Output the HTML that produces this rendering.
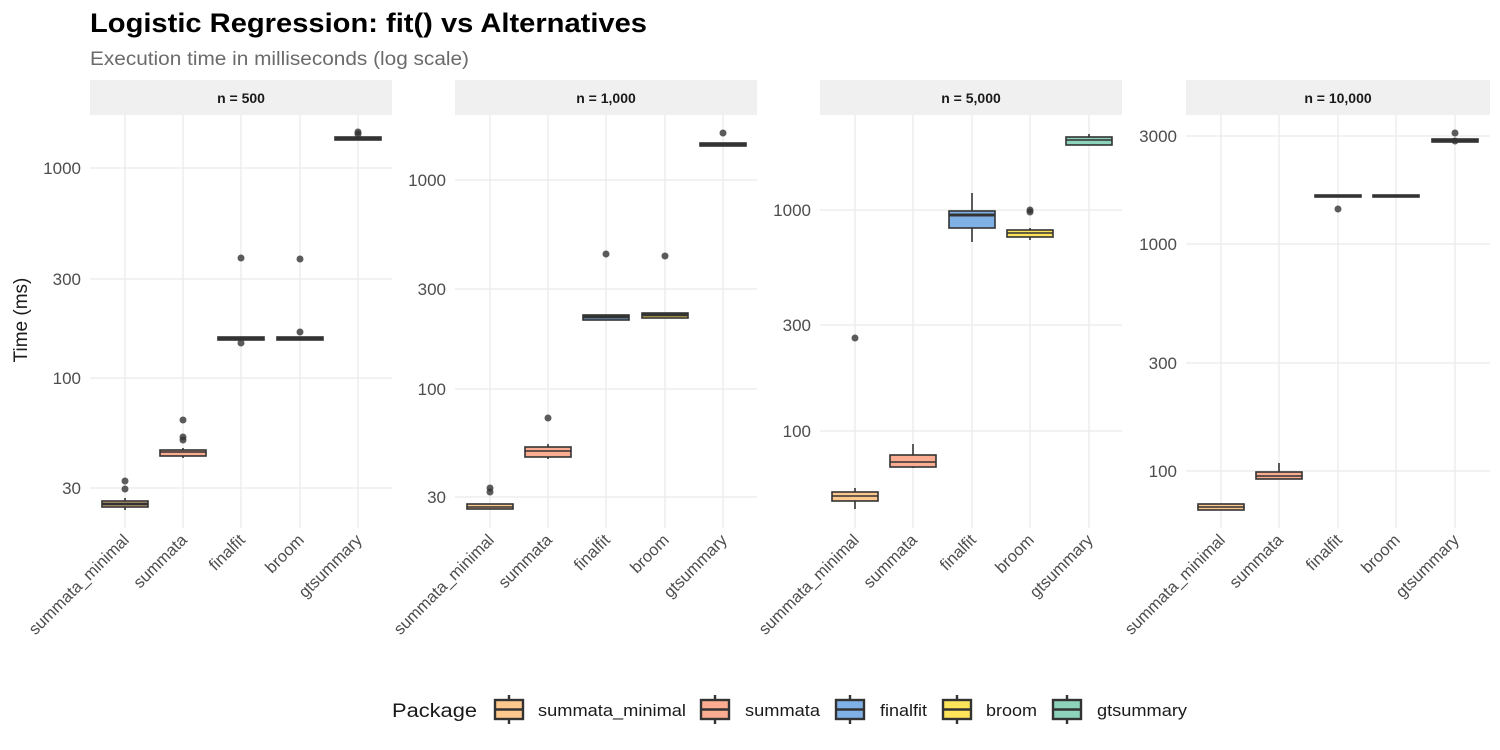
<!DOCTYPE html>
<html><head><meta charset="utf-8"><style>
body{margin:0;background:#fff;}
svg{display:block;font-family:"Liberation Sans",sans-serif;}
.g{stroke:#ebebeb;stroke-width:1.3;}
.t{font-size:17px;fill:#4d4d4d;}
.b{stroke:#333;stroke-width:1.6;}
.k{stroke:#333;stroke-width:2.4;}
.m{stroke:#333;stroke-width:3;}
.o{fill:#333;fill-opacity:.8;}
</style></head><body>
<svg width="1500" height="750" viewBox="0 0 1500 750">
<text x="90" y="32" font-size="27" font-weight="bold" fill="#000" textLength="557" lengthAdjust="spacingAndGlyphs">Logistic Regression: fit() vs Alternatives</text>
<text x="90" y="65" font-size="19" fill="#6b6b6b" textLength="379" lengthAdjust="spacingAndGlyphs">Execution time in milliseconds (log scale)</text>
<text transform="translate(27,320) rotate(-90)" font-size="19" fill="#1a1a1a" text-anchor="middle">Time (ms)</text>

<rect x="90" y="80" width="302" height="35" fill="#f0f0f0"/>
<rect x="455" y="80" width="302" height="35" fill="#f0f0f0"/>
<rect x="820" y="80" width="302" height="35" fill="#f0f0f0"/>
<rect x="1186" y="80" width="304" height="35" fill="#f0f0f0"/>
<g font-size="14" font-weight="bold" fill="#1a1a1a" text-anchor="middle">
<text x="241" y="103">n = 500</text><text x="606" y="103">n = 1,000</text>
<text x="971" y="103">n = 5,000</text><text x="1338" y="103">n = 10,000</text></g>

<g class="g">
<line x1="90" x2="392" y1="168" y2="168"/><line x1="90" x2="392" y1="279" y2="279"/><line x1="90" x2="392" y1="378" y2="378"/><line x1="90" x2="392" y1="488" y2="488"/>
<line x1="125" x2="125" y1="115" y2="528"/><line x1="183" x2="183" y1="115" y2="528"/><line x1="241" x2="241" y1="115" y2="528"/><line x1="300" x2="300" y1="115" y2="528"/><line x1="358" x2="358" y1="115" y2="528"/>
<line x1="455" x2="757" y1="180" y2="180"/><line x1="455" x2="757" y1="289" y2="289"/><line x1="455" x2="757" y1="389" y2="389"/><line x1="455" x2="757" y1="497" y2="497"/>
<line x1="490" x2="490" y1="115" y2="528"/><line x1="548" x2="548" y1="115" y2="528"/><line x1="606" x2="606" y1="115" y2="528"/><line x1="665" x2="665" y1="115" y2="528"/><line x1="723" x2="723" y1="115" y2="528"/>
<line x1="820" x2="1122" y1="210" y2="210"/><line x1="820" x2="1122" y1="325" y2="325"/><line x1="820" x2="1122" y1="431" y2="431"/>
<line x1="855" x2="855" y1="115" y2="528"/><line x1="913" x2="913" y1="115" y2="528"/><line x1="972" x2="972" y1="115" y2="528"/><line x1="1030" x2="1030" y1="115" y2="528"/><line x1="1089" x2="1089" y1="115" y2="528"/>
<line x1="1186" x2="1490" y1="136" y2="136"/><line x1="1186" x2="1490" y1="244" y2="244"/><line x1="1186" x2="1490" y1="363" y2="363"/><line x1="1186" x2="1490" y1="471" y2="471"/>
<line x1="1221" x2="1221" y1="115" y2="528"/><line x1="1279" x2="1279" y1="115" y2="528"/><line x1="1338" x2="1338" y1="115" y2="528"/><line x1="1396" x2="1396" y1="115" y2="528"/><line x1="1455" x2="1455" y1="115" y2="528"/>
</g>

<g class="t" text-anchor="end">
<text x="81" y="174">1000</text><text x="81" y="285">300</text><text x="81" y="384">100</text><text x="81" y="494">30</text>
<text x="446" y="186">1000</text><text x="446" y="295">300</text><text x="446" y="395">100</text><text x="446" y="503">30</text>
<text x="811" y="216">1000</text><text x="811" y="331">300</text><text x="811" y="437">100</text>
<text x="1177" y="142">3000</text><text x="1177" y="250">1000</text><text x="1177" y="369">300</text><text x="1177" y="477">100</text>
</g>

<line class="b" x1="125" x2="125" y1="498" y2="510"/><rect class="b" x="102" y="501" width="46" height="6" fill="#FDC88E"/><line class="m" x1="102" x2="148" y1="504" y2="504"/>
<circle class="o" cx="125" cy="481" r="3.5"/><circle class="o" cx="125" cy="489" r="3.5"/>
<line class="b" x1="183" x2="183" y1="448" y2="458"/><rect class="b" x="160" y="450" width="46" height="6" fill="#FCAD91"/><line class="b" x1="160" x2="206" y1="452" y2="452"/>
<circle class="o" cx="183" cy="420" r="3.5"/><circle class="o" cx="183" cy="437" r="3.5"/><circle class="o" cx="183" cy="440" r="3.5"/>
<rect class="b" x="218" y="337" width="46" height="3" fill="#80B1E6"/><line class="m" x1="218" x2="264" y1="338.5" y2="338.5"/>
<circle class="o" cx="241" cy="258" r="3.5"/><circle class="o" cx="241" cy="343" r="3.5"/>
<rect class="b" x="277" y="337" width="46" height="3" fill="#FEE45A"/><line class="m" x1="277" x2="323" y1="338.5" y2="338.5"/>
<circle class="o" cx="300" cy="259" r="3.5"/><circle class="o" cx="300" cy="332" r="3.5"/>
<rect class="b" x="335" y="137" width="46" height="3" fill="#8DD3BB"/><line class="m" x1="335" x2="381" y1="138.5" y2="138.5"/>
<circle class="o" cx="358" cy="132" r="3.5"/><circle class="o" cx="358" cy="134" r="3.5"/>

<rect class="b" x="467" y="504" width="46" height="5" fill="#FDC88E"/><line class="b" x1="467" x2="513" y1="507" y2="507"/>
<circle class="o" cx="490" cy="488" r="3.5"/><circle class="o" cx="490" cy="492" r="3.5"/>
<line class="b" x1="548" x2="548" y1="444" y2="459"/><rect class="b" x="525" y="447" width="46" height="10" fill="#FCAD91"/><line class="b" x1="525" x2="571" y1="451" y2="451"/>
<circle class="o" cx="548" cy="418" r="3.5"/>
<rect class="b" x="583" y="315" width="46" height="5" fill="#80B1E6"/><line class="m" x1="583" x2="629" y1="317" y2="317"/>
<circle class="o" cx="606" cy="254" r="3.5"/>
<rect class="b" x="642" y="313" width="46" height="5" fill="#FEE45A"/><line class="m" x1="642" x2="688" y1="315" y2="315"/>
<circle class="o" cx="665" cy="256" r="3.5"/>
<rect class="b" x="700" y="143" width="46" height="3" fill="#8DD3BB"/><line class="m" x1="700" x2="746" y1="144.5" y2="144.5"/>
<circle class="o" cx="723" cy="133" r="3.5"/>

<line class="b" x1="855" x2="855" y1="488" y2="509"/><rect class="b" x="832" y="492" width="46" height="9" fill="#FDC88E"/><line class="b" x1="832" x2="878" y1="496" y2="496"/>
<circle class="o" cx="855" cy="338" r="3.5"/>
<line class="b" x1="913" x2="913" y1="444" y2="468"/><rect class="b" x="890" y="455" width="46" height="12" fill="#FCAD91"/><line class="b" x1="890" x2="936" y1="462" y2="462"/>
<line class="b" x1="972" x2="972" y1="193" y2="242"/><rect class="b" x="949" y="211" width="46" height="17" fill="#80B1E6"/><line class="m" x1="949" x2="995" y1="215" y2="215"/>
<line class="b" x1="1030" x2="1030" y1="228" y2="240"/><rect class="b" x="1007" y="230" width="46" height="7" fill="#FEE45A"/><line class="b" x1="1007" x2="1053" y1="233" y2="233"/>
<circle class="o" cx="1030" cy="210" r="3.5"/><circle class="o" cx="1030" cy="212" r="3.5"/>
<line class="b" x1="1089" x2="1089" y1="134" y2="145"/><rect class="b" x="1066" y="137" width="46" height="8" fill="#8DD3BB"/><line class="b" x1="1066" x2="1112" y1="140" y2="140"/>

<rect class="b" x="1198" y="504" width="46" height="6" fill="#FDC88E"/><line class="b" x1="1198" x2="1244" y1="507" y2="507"/>
<line class="b" x1="1279" x2="1279" y1="463" y2="479"/><rect class="b" x="1256" y="472" width="46" height="7" fill="#FCAD91"/><line class="b" x1="1256" x2="1302" y1="476" y2="476"/>
<rect class="b" x="1315" y="195" width="46" height="2" fill="#80B1E6"/><line class="m" x1="1315" x2="1361" y1="196" y2="196"/>
<circle class="o" cx="1338" cy="209" r="3.5"/>
<rect class="b" x="1373" y="195" width="46" height="2" fill="#FEE45A"/><line class="m" x1="1373" x2="1419" y1="196" y2="196"/>
<rect class="b" x="1432" y="139" width="46" height="3" fill="#8DD3BB"/><line class="m" x1="1432" x2="1478" y1="140.5" y2="140.5"/>
<circle class="o" cx="1455" cy="133" r="3.5"/><circle class="o" cx="1455" cy="141" r="3.5"/>

<g class="t" text-anchor="end" style="font-size:16.5px">
<text transform="translate(130,541) rotate(-45)">summata_minimal</text><text transform="translate(188,541) rotate(-45)">summata</text><text transform="translate(246,541) rotate(-45)">finalfit</text><text transform="translate(305,541) rotate(-45)">broom</text><text transform="translate(363,541) rotate(-45)">gtsummary</text>
<text transform="translate(495,541) rotate(-45)">summata_minimal</text><text transform="translate(553,541) rotate(-45)">summata</text><text transform="translate(611,541) rotate(-45)">finalfit</text><text transform="translate(670,541) rotate(-45)">broom</text><text transform="translate(728,541) rotate(-45)">gtsummary</text>
<text transform="translate(860,541) rotate(-45)">summata_minimal</text><text transform="translate(918,541) rotate(-45)">summata</text><text transform="translate(977,541) rotate(-45)">finalfit</text><text transform="translate(1035,541) rotate(-45)">broom</text><text transform="translate(1094,541) rotate(-45)">gtsummary</text>
<text transform="translate(1226,541) rotate(-45)">summata_minimal</text><text transform="translate(1284,541) rotate(-45)">summata</text><text transform="translate(1343,541) rotate(-45)">finalfit</text><text transform="translate(1401,541) rotate(-45)">broom</text><text transform="translate(1460,541) rotate(-45)">gtsummary</text>
</g>

<text x="392" y="717" font-size="19" fill="#1a1a1a" textLength="85" lengthAdjust="spacingAndGlyphs">Package</text>
<g font-size="17" fill="#1a1a1a">
<line class="k" x1="509" x2="509" y1="695" y2="724"/><rect class="k" x="495" y="700" width="28" height="19" fill="#FDC88E"/><line class="k" x1="495" x2="523" y1="709.5" y2="709.5"/><text x="538" y="716" textLength="148" lengthAdjust="spacingAndGlyphs">summata_minimal</text>
<line class="k" x1="715" x2="715" y1="695" y2="724"/><rect class="k" x="701" y="700" width="28" height="19" fill="#FCAD91"/><line class="k" x1="701" x2="729" y1="709.5" y2="709.5"/><text x="745" y="716" textLength="75" lengthAdjust="spacingAndGlyphs">summata</text>
<line class="k" x1="850" x2="850" y1="695" y2="724"/><rect class="k" x="836" y="700" width="28" height="19" fill="#80B1E6"/><line class="k" x1="836" x2="864" y1="709.5" y2="709.5"/><text x="880" y="716" textLength="47" lengthAdjust="spacingAndGlyphs">finalfit</text>
<line class="k" x1="957" x2="957" y1="695" y2="724"/><rect class="k" x="943" y="700" width="28" height="19" fill="#FEE45A"/><line class="k" x1="943" x2="971" y1="709.5" y2="709.5"/><text x="986" y="716" textLength="51" lengthAdjust="spacingAndGlyphs">broom</text>
<line class="k" x1="1067" x2="1067" y1="695" y2="724"/><rect class="k" x="1053" y="700" width="28" height="19" fill="#8DD3BB"/><line class="k" x1="1053" x2="1081" y1="709.5" y2="709.5"/><text x="1097" y="716" textLength="90" lengthAdjust="spacingAndGlyphs">gtsummary</text>
</g>
</svg>
</body></html>
